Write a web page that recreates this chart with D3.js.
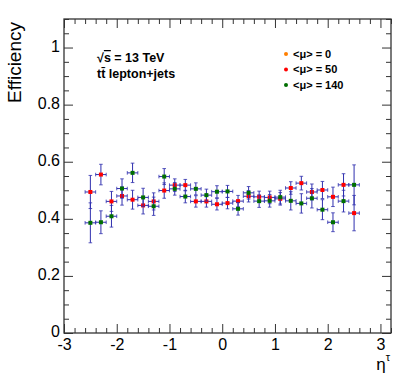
<!DOCTYPE html>
<html>
<head>
<meta charset="utf-8">
<script src="https://cdn.jsdelivr.net/npm/d3@7"></script>
<style>
  html, body { margin: 0; padding: 0; background: #fff; }
  svg { display: block; }
  text { font-family: "Liberation Sans", Arial, Helvetica, sans-serif; }
</style>
</head>
<body>
<svg id="chart" width="399" height="383"></svg>
<script>
// ---------------- data ----------------
const etaBins = [-2.5,-2.3,-2.1,-1.9,-1.7,-1.5,-1.3,-1.1,-0.9,-0.7,-0.5,-0.3,-0.1,0.1,0.3,0.5,0.7,0.9,1.1,1.3,1.5,1.7,1.9,2.1,2.3,2.5];
const binHalfWidth = 0.1;
const eff0 = [];      // <mu> = 0 : no visible points
const err0 = [];
const eff50 = [0.494,0.555,0.461,0.480,0.467,0.447,0.461,0.499,0.518,0.518,0.461,0.461,0.451,0.455,0.462,0.479,0.477,0.475,0.470,0.508,0.525,0.494,0.501,0.477,0.519,0.420];
const err50 = [0.058,0.036,0.035,0.032,0.033,0.030,0.030,0.027,0.022,0.020,0.020,0.020,0.020,0.020,0.020,0.020,0.020,0.022,0.022,0.022,0.024,0.028,0.030,0.034,0.039,0.062];
const eff140 = [0.386,0.388,0.409,0.506,0.561,0.475,0.444,0.548,0.505,0.478,0.505,0.483,0.495,0.496,0.435,0.491,0.462,0.463,0.476,0.463,0.454,0.472,0.432,0.388,0.462,0.519];
const err140 = [0.070,0.040,0.038,0.034,0.034,0.032,0.032,0.028,0.022,0.022,0.021,0.021,0.021,0.021,0.022,0.022,0.022,0.022,0.024,0.032,0.034,0.034,0.035,0.033,0.038,0.070];
const seriesNames = ["<\u03bc> = 0", "<\u03bc> = 50", "<\u03bc> = 140"];
const seriesColors = ["#ff7f00", "#ff0000", "#006e00"];
const xMajorTicks = [-3,-2,-1,0,1,2,3];
const xTickLabels = ["-3","-2","-1","0","1","2","3"];
const yMajorTicks = [0,0.2,0.4,0.6,0.8,1.0];
const yTickLabels = ["0","0.2","0.4","0.6","0.8","1"];

// ---------------- layout ----------------
const svg = d3.select("#chart");
const L = 64, R = 391, T = 19, B = 333;
const x = d3.scaleLinear().domain([-3, 3.2]).range([L, R]);
const y = d3.scaleLinear().domain([0, 1.1]).range([B, T]);
const frameColor = "#333";
const majorLen = 9, minorLen = 5;

const xMinor = d3.range(-3, 3.2001, 0.2).map(v => +v.toFixed(2)).filter(v => Math.abs(v - Math.round(v)) > 1e-6);
const yMinor = d3.range(0, 1.1001, 0.05).map(v => +v.toFixed(2)).filter(v => Math.abs(v*5 - Math.round(v*5)) > 1e-6);

function styleAxis(g) {
  g.select(".domain").remove();
  g.selectAll("line").attr("stroke", frameColor).attr("stroke-width", 1);
}

// bottom axis
svg.append("g").attr("transform", `translate(0,${B})`)
  .call(d3.axisBottom(x).tickValues(xMajorTicks).tickSize(-majorLen).tickPadding(6)
    .tickFormat((d,i) => xTickLabels[i]))
  .call(styleAxis)
  .call(g => g.selectAll("text").attr("font-size", 16).attr("fill", "#000")
    .attr("font-family", "Liberation Sans, Arial, sans-serif"));
svg.append("g").attr("transform", `translate(0,${B})`)
  .call(d3.axisBottom(x).tickValues(xMinor).tickSize(-minorLen).tickFormat(""))
  .call(styleAxis);
// top axis (mirror)
svg.append("g").attr("transform", `translate(0,${T})`)
  .call(d3.axisTop(x).tickValues(xMajorTicks).tickSize(-majorLen).tickFormat(""))
  .call(styleAxis);
svg.append("g").attr("transform", `translate(0,${T})`)
  .call(d3.axisTop(x).tickValues(xMinor).tickSize(-minorLen).tickFormat(""))
  .call(styleAxis);
// left axis
svg.append("g").attr("transform", `translate(${L},0)`)
  .call(d3.axisLeft(y).tickValues(yMajorTicks).tickSize(-majorLen).tickPadding(4)
    .tickFormat((d,i) => yTickLabels[i]))
  .call(styleAxis)
  .call(g => g.selectAll("text").attr("font-size", 16).attr("fill", "#000").attr("dy", "0.22em")
    .attr("font-family", "Liberation Sans, Arial, sans-serif"));
svg.append("g").attr("transform", `translate(${L},0)`)
  .call(d3.axisLeft(y).tickValues(yMinor).tickSize(-minorLen).tickFormat(""))
  .call(styleAxis);
// right axis (mirror)
svg.append("g").attr("transform", `translate(${R},0)`)
  .call(d3.axisRight(y).tickValues(yMajorTicks).tickSize(-majorLen).tickFormat(""))
  .call(styleAxis);
svg.append("g").attr("transform", `translate(${R},0)`)
  .call(d3.axisRight(y).tickValues(yMinor).tickSize(-minorLen).tickFormat(""))
  .call(styleAxis);

// frame
svg.append("rect").attr("x", L).attr("y", T).attr("width", R - L).attr("height", B - T)
  .attr("fill", "none").attr("stroke", frameColor).attr("stroke-width", 1.3);

// axis titles
svg.append("text").attr("transform", `translate(21,${T + 3}) rotate(-90)`)
  .attr("text-anchor", "end").attr("font-size", 19).text("Efficiency");
const xt = svg.append("text").attr("x", R - 1).attr("y", 370).attr("text-anchor", "end").attr("font-size", 17);
xt.append("tspan").text("\u03b7");
xt.append("tspan").attr("font-size", 11).attr("dy", -9).text("\u03c4");

// labels
const t1 = svg.append("text").attr("x", 97).attr("y", 62).attr("font-size", 12.5).attr("font-weight", "bold");
t1.append("tspan").text("\u221a");
t1.append("tspan").attr("text-decoration", "overline").text("s");
t1.append("tspan").text(" = 13 TeV");
svg.append("text").attr("x", 97).attr("y", 78).attr("font-size", 12.5).attr("font-weight", "bold")
  .text("tt\u0304 lepton+jets");

// ---------------- data marks ----------------
const allSeries = [
  {eff: eff0, err: err0, color: seriesColors[0]},
  {eff: eff50, err: err50, color: seriesColors[1]},
  {eff: eff140, err: err140, color: seriesColors[2]}
];
const barColor = "#2f2fae";
const cap = 1.8, ms = 4;
allSeries.forEach(s => {
  const pts = s.eff.map((v, i) => ({x: etaBins[i], v: v, e: s.err[i]}));
  const g = svg.append("g");
  const pg = g.selectAll("g.pt").data(pts).enter().append("g").attr("class", "pt");
  // vertical error
  pg.append("line").attr("x1", d => x(d.x)).attr("x2", d => x(d.x))
    .attr("y1", d => y(d.v - d.e)).attr("y2", d => y(d.v + d.e))
    .attr("stroke", barColor).attr("stroke-width", 1);
  // horizontal error
  pg.append("line").attr("x1", d => x(d.x - binHalfWidth)).attr("x2", d => x(d.x + binHalfWidth))
    .attr("y1", d => y(d.v)).attr("y2", d => y(d.v))
    .attr("stroke", barColor).attr("stroke-width", 1);
  // caps
  pg.append("path").attr("d", d => {
    const cx = x(d.x), lo = y(d.v - d.e), hi = y(d.v + d.e), cy = y(d.v);
    const xl = x(d.x - binHalfWidth), xr = x(d.x + binHalfWidth);
    return `M${cx-cap},${lo}H${cx+cap}M${cx-cap},${hi}H${cx+cap}` +
           `M${xl},${cy-cap}V${cy+cap}M${xr},${cy-cap}V${cy+cap}`;
  }).attr("stroke", barColor).attr("stroke-width", 1).attr("fill", "none").attr("opacity", 0.8);
  // markers
  pg.append("rect").attr("x", d => x(d.x) - ms/2).attr("y", d => y(d.v) - ms/2)
    .attr("width", ms).attr("height", ms).attr("fill", s.color);
});

// ---------------- legend ----------------
const legY = [54, 69.5, 85];
const leg = svg.append("g");
seriesNames.forEach((n, i) => {
  leg.append("circle").attr("cx", 286).attr("cy", legY[i]).attr("r", 2).attr("fill", seriesColors[i]);
  leg.append("text").attr("x", 293).attr("y", legY[i]).attr("dy", "0.36em")
    .attr("font-size", 11).attr("font-weight", "bold").text(n);
});
</script>
</body>
</html>
